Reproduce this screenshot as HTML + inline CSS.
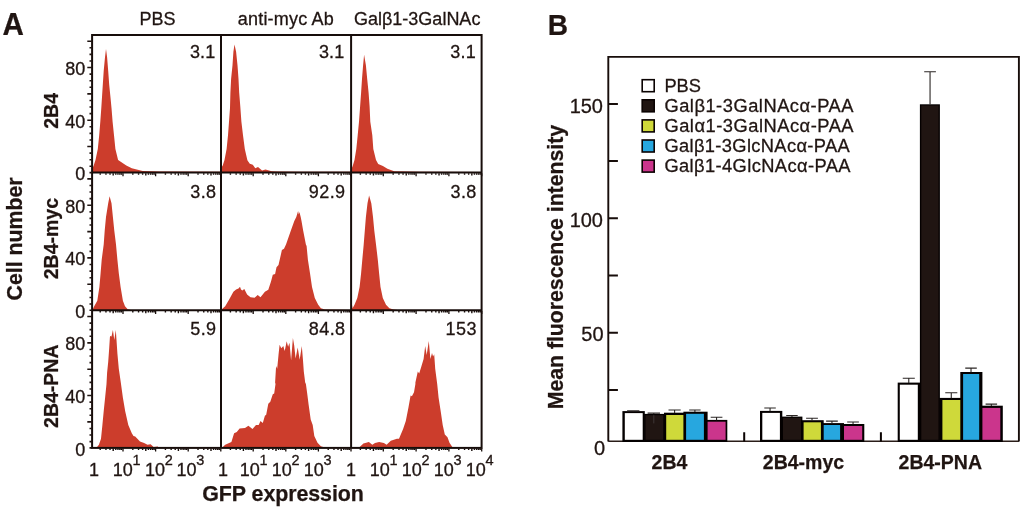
<!DOCTYPE html>
<html lang="en"><head><meta charset="utf-8"><title>Figure</title>
<style>html,body{margin:0;padding:0;background:#fff}svg{display:block}text{font-family:"Liberation Sans",sans-serif;fill:#201512;stroke:#201512;stroke-width:0.3px}.b{font-weight:bold;stroke-width:0.25px}</style>
</head><body>
<svg width="1024" height="512" viewBox="0 0 1024 512">
<rect width="1024" height="512" fill="#fff"/>
<g id="panelA">
<polygon fill="#CC3D2C" points="92.8,172.6 92.8,167.5 93.7,165.4 95.5,160.0 97.8,149.0 99.2,135.3 100.3,121.7 101.3,108.0 102.8,84.7 103.7,71.0 105.0,57.3 106.0,49.1 107.1,57.3 108.2,71.0 109.2,84.7 110.6,98.4 111.5,108.0 112.6,121.7 114.0,135.3 115.4,149.0 118.1,160.0 126.3,165.4 131.8,168.2 142.7,170.9 160.0,171.5 221.0,171.7 221.0,172.6"/>
<polygon fill="#CC3D2C" points="221.8,172.6 221.8,167.1 222.7,165.4 224.5,160.0 226.6,149.0 228.0,135.3 229.0,121.7 230.0,108.0 230.4,92.7 231.1,79.0 232.5,65.3 233.4,51.7 234.5,44.6 236.1,51.7 237.5,65.3 238.5,79.0 239.2,92.7 240.3,106.4 241.4,121.7 243.0,135.3 244.8,149.0 247.4,160.3 249.8,163.8 252.8,164.7 255.3,168.2 258.0,167.1 262.1,170.6 265.5,169.5 271.7,171.2 277.2,171.6 300.0,171.8 351.0,171.8 351.0,172.6"/>
<polygon fill="#CC3D2C" points="351.8,172.6 351.8,168.2 352.7,166.1 354.5,160.0 356.3,149.0 357.7,135.3 359.0,121.7 360.0,108.0 361.1,92.7 362.0,79.0 363.1,65.3 364.1,54.7 365.9,65.3 367.2,79.0 368.6,92.7 369.6,106.4 370.3,121.7 372.3,135.3 373.3,149.0 376.0,160.0 378.2,164.0 382.9,166.1 387.4,168.8 394.2,171.2 420.0,171.8 481.0,171.9 481.0,172.6"/>
<polygon fill="#CC3D2C" points="92.8,310.3 92.8,309.2 94.2,306.2 97.3,300.7 99.4,287.0 100.6,273.3 101.7,259.7 103.7,244.4 104.7,230.7 106.0,217.0 108.2,203.3 109.6,196.2 111.5,203.3 112.9,217.0 114.3,230.7 116.0,244.4 117.4,259.7 118.8,273.3 120.6,287.0 122.9,300.7 125.0,306.2 127.7,309.2 132.0,310.3"/>
<polygon fill="#CC3D2C" points="221.8,310.3 221.8,309.2 225.2,306.2 229.3,299.3 233.4,291.8 236.1,289.5 238.5,288.6 240.0,286.7 241.0,289.5 242.3,290.4 244.3,289.1 247.1,294.5 250.5,297.3 254.6,297.7 257.7,294.9 260.5,297.3 264.9,291.8 268.3,289.7 271.0,281.5 272.8,274.7 275.1,274.0 276.5,267.2 278.5,265.1 281.9,250.1 284.0,248.7 286.0,244.4 290.8,230.7 294.3,221.0 296.3,217.0 298.1,210.9 298.8,214.5 299.4,212.0 300.7,217.0 301.5,221.0 303.2,230.7 305.9,244.4 306.6,246.0 307.9,259.7 310.0,273.3 312.0,287.0 314.8,298.0 318.2,304.8 320.9,308.2 325.0,309.6 351.0,309.9 351.0,310.3"/>
<polygon fill="#CC3D2C" points="351.8,310.3 351.8,303.4 352.6,308.2 354.5,304.8 357.3,298.0 359.6,287.0 361.1,273.3 362.3,259.7 363.7,244.4 364.8,230.7 365.9,217.0 367.5,203.3 369.1,195.4 371.3,203.3 373.0,217.0 374.3,230.7 376.0,244.4 377.8,259.7 379.1,273.3 380.5,287.0 382.8,298.0 386.0,304.8 389.4,308.2 393.5,309.6 400.0,310.3"/>
<polygon fill="#CC3D2C" points="96.2,447.9 98.9,444.8 101.0,438.7 102.4,425.0 103.7,411.3 105.1,397.7 106.5,384.0 107.1,372.8 108.2,361.9 109.2,348.2 109.9,337.2 110.1,335.9 111.5,336.4 112.9,330.1 114.3,340.0 115.8,330.1 116.4,338.6 117.4,353.6 118.8,368.7 120.8,382.4 122.9,397.7 125.2,411.3 128.3,425.0 131.8,433.2 133.5,435.9 135.2,436.6 140.0,441.4 144.1,443.1 147.5,444.8 150.6,444.2 153.6,446.9 157.7,446.6 159.1,447.9"/>
<polygon fill="#CC3D2C" points="221.8,447.9 225.2,444.8 231.4,442.1 234.1,433.2 236.8,431.9 239.6,428.4 245.0,428.0 248.4,425.7 252.5,429.1 256.0,425.0 258.7,425.0 260.5,420.9 262.8,423.0 264.9,415.7 266.2,414.8 268.3,403.8 270.3,401.8 272.8,394.3 274.2,393.6 275.5,384.0 275.1,382.4 276.1,366.0 277.2,368.7 278.5,355.0 279.6,344.8 281.3,348.2 283.3,346.1 284.7,350.9 286.7,341.3 288.1,346.8 289.5,342.7 291.1,360.5 292.9,337.9 294.2,345.4 295.6,358.4 297.7,347.5 299.7,359.8 301.8,346.1 302.9,359.1 303.8,371.4 305.2,382.4 305.9,384.0 307.2,393.6 308.6,404.5 310.7,419.5 312.7,425.0 314.3,436.0 317.5,442.8 320.9,446.2 326.4,447.9"/>
<polygon fill="#CC3D2C" points="358.6,447.9 363.4,443.5 368.9,442.1 372.3,444.8 375.0,443.1 379.1,442.1 383.9,443.1 386.6,444.8 390.8,440.7 396.9,438.7 399.0,438.7 403.1,429.1 405.8,420.9 408.5,407.2 410.6,395.6 411.9,396.3 414.0,392.2 415.4,384.0 415.4,382.4 417.8,371.4 419.2,373.5 421.5,366.0 423.6,359.1 425.2,346.1 426.7,355.0 428.8,341.1 430.4,359.1 432.0,353.0 433.1,356.4 434.2,354.3 435.2,368.7 437.0,382.4 437.2,384.0 438.6,397.7 440.7,411.3 442.7,425.0 444.8,434.6 447.5,437.3 449.5,442.8 453.0,447.9"/>
<g stroke="#170d0a" stroke-width="2.00" fill="none" stroke-linecap="butt">
<rect x="92.1" y="35.0" width="389.5" height="412.9"/>
<line x1="221.0" y1="35.0" x2="221.0" y2="447.9"/>
<line x1="351.1" y1="35.0" x2="351.1" y2="447.9"/>
<line x1="92.1" y1="172.6" x2="481.6" y2="172.6"/>
<line x1="92.1" y1="310.3" x2="481.6" y2="310.3"/>
</g>
<path d="M92.1 172.60h-2.6M92.1 166.31h-2.6M92.1 159.73h-2.6M92.1 153.15h-2.6M92.1 146.56h-4.8M92.1 139.98h-2.6M92.1 133.39h-2.6M92.1 126.80h-2.6M92.1 120.22h-4.8M92.1 113.63h-2.6M92.1 107.05h-2.6M92.1 100.46h-2.6M92.1 93.88h-4.8M92.1 87.30h-2.6M92.1 80.71h-2.6M92.1 74.12h-2.6M92.1 67.54h-4.8M92.1 60.95h-2.6M92.1 54.37h-2.6M92.1 47.78h-2.6M92.1 41.20h-4.8M92.1 310.30h-2.6M92.1 304.02h-2.6M92.1 297.43h-2.6M92.1 290.85h-2.6M92.1 284.26h-4.8M92.1 277.68h-2.6M92.1 271.09h-2.6M92.1 264.51h-2.6M92.1 257.92h-4.8M92.1 251.34h-2.6M92.1 244.75h-2.6M92.1 238.17h-2.6M92.1 231.58h-4.8M92.1 225.00h-2.6M92.1 218.41h-2.6M92.1 211.83h-2.6M92.1 205.24h-4.8M92.1 198.66h-2.6M92.1 192.07h-2.6M92.1 185.49h-2.6M92.1 178.90h-4.8M92.1 447.90h-2.6M92.1 441.62h-2.6M92.1 435.03h-2.6M92.1 428.44h-2.6M92.1 421.86h-4.8M92.1 415.27h-2.6M92.1 408.69h-2.6M92.1 402.10h-2.6M92.1 395.52h-4.8M92.1 388.94h-2.6M92.1 382.35h-2.6M92.1 375.76h-2.6M92.1 369.18h-4.8M92.1 362.59h-2.6M92.1 356.01h-2.6M92.1 349.43h-2.6M92.1 342.84h-4.8M92.1 336.25h-2.6M92.1 329.67h-2.6M92.1 323.08h-2.6M92.1 316.50h-4.8" stroke="#201512" stroke-width="1.6" fill="none"/>
<path d="M100.21 173.30v1.4M105.95 173.30v1.4M110.03 173.30v1.4M113.19 173.30v2.3M115.77 173.30v1.4M117.95 173.30v1.4M119.84 173.30v1.4M121.51 173.30v1.4M132.81 173.30v1.4M138.55 173.30v1.4M142.63 173.30v1.4M145.79 173.30v2.3M148.37 173.30v1.4M150.55 173.30v1.4M152.44 173.30v1.4M154.11 173.30v1.4M165.41 173.30v1.4M171.15 173.30v1.4M175.23 173.30v1.4M178.39 173.30v2.3M180.97 173.30v1.4M183.15 173.30v1.4M185.04 173.30v1.4M186.71 173.30v1.4M198.01 173.30v1.4M203.75 173.30v1.4M207.83 173.30v1.4M210.99 173.30v2.3M213.57 173.30v1.4M215.75 173.30v1.4M217.64 173.30v1.4M219.31 173.30v1.4M230.41 173.30v1.4M236.15 173.30v1.4M240.23 173.30v1.4M243.39 173.30v2.3M245.97 173.30v1.4M248.15 173.30v1.4M250.04 173.30v1.4M251.71 173.30v1.4M263.01 173.30v1.4M268.75 173.30v1.4M272.83 173.30v1.4M275.99 173.30v2.3M278.57 173.30v1.4M280.75 173.30v1.4M282.64 173.30v1.4M284.31 173.30v1.4M295.61 173.30v1.4M301.35 173.30v1.4M305.43 173.30v1.4M308.59 173.30v2.3M311.17 173.30v1.4M313.35 173.30v1.4M315.24 173.30v1.4M316.91 173.30v1.4M328.21 173.30v1.4M333.95 173.30v1.4M338.03 173.30v1.4M341.19 173.30v2.3M343.77 173.30v1.4M345.95 173.30v1.4M347.84 173.30v1.4M349.51 173.30v1.4M360.37 173.30v1.4M366.15 173.30v1.4M370.25 173.30v1.4M373.43 173.30v2.3M376.02 173.30v1.4M378.22 173.30v1.4M380.12 173.30v1.4M381.80 173.30v1.4M393.17 173.30v1.4M398.95 173.30v1.4M403.05 173.30v1.4M406.23 173.30v2.3M408.82 173.30v1.4M411.02 173.30v1.4M412.92 173.30v1.4M414.60 173.30v1.4M425.97 173.30v1.4M431.75 173.30v1.4M435.85 173.30v1.4M439.03 173.30v2.3M441.62 173.30v1.4M443.82 173.30v1.4M445.72 173.30v1.4M447.40 173.30v1.4M458.77 173.30v1.4M464.55 173.30v1.4M468.65 173.30v1.4M471.83 173.30v2.3M474.42 173.30v1.4M476.62 173.30v1.4M478.52 173.30v1.4M480.20 173.30v1.4M100.21 311.00v1.4M105.95 311.00v1.4M110.03 311.00v1.4M113.19 311.00v2.3M115.77 311.00v1.4M117.95 311.00v1.4M119.84 311.00v1.4M121.51 311.00v1.4M132.81 311.00v1.4M138.55 311.00v1.4M142.63 311.00v1.4M145.79 311.00v2.3M148.37 311.00v1.4M150.55 311.00v1.4M152.44 311.00v1.4M154.11 311.00v1.4M165.41 311.00v1.4M171.15 311.00v1.4M175.23 311.00v1.4M178.39 311.00v2.3M180.97 311.00v1.4M183.15 311.00v1.4M185.04 311.00v1.4M186.71 311.00v1.4M198.01 311.00v1.4M203.75 311.00v1.4M207.83 311.00v1.4M210.99 311.00v2.3M213.57 311.00v1.4M215.75 311.00v1.4M217.64 311.00v1.4M219.31 311.00v1.4M230.41 311.00v1.4M236.15 311.00v1.4M240.23 311.00v1.4M243.39 311.00v2.3M245.97 311.00v1.4M248.15 311.00v1.4M250.04 311.00v1.4M251.71 311.00v1.4M263.01 311.00v1.4M268.75 311.00v1.4M272.83 311.00v1.4M275.99 311.00v2.3M278.57 311.00v1.4M280.75 311.00v1.4M282.64 311.00v1.4M284.31 311.00v1.4M295.61 311.00v1.4M301.35 311.00v1.4M305.43 311.00v1.4M308.59 311.00v2.3M311.17 311.00v1.4M313.35 311.00v1.4M315.24 311.00v1.4M316.91 311.00v1.4M328.21 311.00v1.4M333.95 311.00v1.4M338.03 311.00v1.4M341.19 311.00v2.3M343.77 311.00v1.4M345.95 311.00v1.4M347.84 311.00v1.4M349.51 311.00v1.4M360.37 311.00v1.4M366.15 311.00v1.4M370.25 311.00v1.4M373.43 311.00v2.3M376.02 311.00v1.4M378.22 311.00v1.4M380.12 311.00v1.4M381.80 311.00v1.4M393.17 311.00v1.4M398.95 311.00v1.4M403.05 311.00v1.4M406.23 311.00v2.3M408.82 311.00v1.4M411.02 311.00v1.4M412.92 311.00v1.4M414.60 311.00v1.4M425.97 311.00v1.4M431.75 311.00v1.4M435.85 311.00v1.4M439.03 311.00v2.3M441.62 311.00v1.4M443.82 311.00v1.4M445.72 311.00v1.4M447.40 311.00v1.4M458.77 311.00v1.4M464.55 311.00v1.4M468.65 311.00v1.4M471.83 311.00v2.3M474.42 311.00v1.4M476.62 311.00v1.4M478.52 311.00v1.4M480.20 311.00v1.4M100.21 448.60v1.4M105.95 448.60v1.4M110.03 448.60v1.4M113.19 448.60v2.3M115.77 448.60v1.4M117.95 448.60v1.4M119.84 448.60v1.4M121.51 448.60v1.4M132.81 448.60v1.4M138.55 448.60v1.4M142.63 448.60v1.4M145.79 448.60v2.3M148.37 448.60v1.4M150.55 448.60v1.4M152.44 448.60v1.4M154.11 448.60v1.4M165.41 448.60v1.4M171.15 448.60v1.4M175.23 448.60v1.4M178.39 448.60v2.3M180.97 448.60v1.4M183.15 448.60v1.4M185.04 448.60v1.4M186.71 448.60v1.4M198.01 448.60v1.4M203.75 448.60v1.4M207.83 448.60v1.4M210.99 448.60v2.3M213.57 448.60v1.4M215.75 448.60v1.4M217.64 448.60v1.4M219.31 448.60v1.4M230.41 448.60v1.4M236.15 448.60v1.4M240.23 448.60v1.4M243.39 448.60v2.3M245.97 448.60v1.4M248.15 448.60v1.4M250.04 448.60v1.4M251.71 448.60v1.4M263.01 448.60v1.4M268.75 448.60v1.4M272.83 448.60v1.4M275.99 448.60v2.3M278.57 448.60v1.4M280.75 448.60v1.4M282.64 448.60v1.4M284.31 448.60v1.4M295.61 448.60v1.4M301.35 448.60v1.4M305.43 448.60v1.4M308.59 448.60v2.3M311.17 448.60v1.4M313.35 448.60v1.4M315.24 448.60v1.4M316.91 448.60v1.4M328.21 448.60v1.4M333.95 448.60v1.4M338.03 448.60v1.4M341.19 448.60v2.3M343.77 448.60v1.4M345.95 448.60v1.4M347.84 448.60v1.4M349.51 448.60v1.4M360.37 448.60v1.4M366.15 448.60v1.4M370.25 448.60v1.4M373.43 448.60v2.3M376.02 448.60v1.4M378.22 448.60v1.4M380.12 448.60v1.4M381.80 448.60v1.4M393.17 448.60v1.4M398.95 448.60v1.4M403.05 448.60v1.4M406.23 448.60v2.3M408.82 448.60v1.4M411.02 448.60v1.4M412.92 448.60v1.4M414.60 448.60v1.4M425.97 448.60v1.4M431.75 448.60v1.4M435.85 448.60v1.4M439.03 448.60v2.3M441.62 448.60v1.4M443.82 448.60v1.4M445.72 448.60v1.4M447.40 448.60v1.4M458.77 448.60v1.4M464.55 448.60v1.4M468.65 448.60v1.4M471.83 448.60v2.3M474.42 448.60v1.4M476.62 448.60v1.4M478.52 448.60v1.4M480.20 448.60v1.4" stroke="#170d0a" stroke-width="1.4" fill="none"/>
<path d="M123.00 173.30v3.0M155.60 173.30v3.0M188.20 173.30v3.0M220.80 173.30v3.0M253.20 173.30v3.0M285.80 173.30v3.0M318.40 173.30v3.0M351.00 173.30v3.0M383.30 173.30v3.0M416.10 173.30v3.0M448.90 173.30v3.0M481.70 173.30v3.0M123.00 311.00v3.0M155.60 311.00v3.0M188.20 311.00v3.0M220.80 311.00v3.0M253.20 311.00v3.0M285.80 311.00v3.0M318.40 311.00v3.0M351.00 311.00v3.0M383.30 311.00v3.0M416.10 311.00v3.0M448.90 311.00v3.0M481.70 311.00v3.0M123.00 448.60v3.0M155.60 448.60v3.0M188.20 448.60v3.0M220.80 448.60v3.0M253.20 448.60v3.0M285.80 448.60v3.0M318.40 448.60v3.0M351.00 448.60v3.0M383.30 448.60v3.0M416.10 448.60v3.0M448.90 448.60v3.0M481.70 448.60v3.0" stroke="#170d0a" stroke-width="1.3" fill="none"/>
<text x="85.3" y="180.4" font-size="18" text-anchor="end">0</text>
<text x="85.3" y="127.7" font-size="18" text-anchor="end">40</text>
<text x="85.3" y="75.0" font-size="18" text-anchor="end">80</text>
<text x="85.3" y="318.1" font-size="18" text-anchor="end">0</text>
<text x="85.3" y="265.4" font-size="18" text-anchor="end">40</text>
<text x="85.3" y="212.7" font-size="18" text-anchor="end">80</text>
<text x="85.3" y="455.7" font-size="18" text-anchor="end">0</text>
<text x="85.3" y="403.0" font-size="18" text-anchor="end">40</text>
<text x="85.3" y="350.3" font-size="18" text-anchor="end">80</text>
<text x="93.9" y="475.7" font-size="18" text-anchor="middle">1</text>
<text x="223.0" y="475.7" font-size="18" text-anchor="middle">1</text>
<text x="350.9" y="475.7" font-size="18" text-anchor="middle">1</text>
<text x="112.7" y="475.7" font-size="18">10<tspan font-size="14.5" dx="-0.3" dy="-10.3">1</tspan></text>
<text x="144.9" y="475.7" font-size="18">10<tspan font-size="14.5" dx="-0.3" dy="-10.3">2</tspan></text>
<text x="176.6" y="475.7" font-size="18">10<tspan font-size="14.5" dx="-0.3" dy="-10.3">3</tspan></text>
<text x="239.8" y="475.7" font-size="18">10<tspan font-size="14.5" dx="-0.3" dy="-10.3">1</tspan></text>
<text x="271.8" y="475.7" font-size="18">10<tspan font-size="14.5" dx="-0.3" dy="-10.3">2</tspan></text>
<text x="303.8" y="475.7" font-size="18">10<tspan font-size="14.5" dx="-0.3" dy="-10.3">3</tspan></text>
<text x="369.8" y="475.7" font-size="18">10<tspan font-size="14.5" dx="-0.3" dy="-10.3">1</tspan></text>
<text x="401.8" y="475.7" font-size="18">10<tspan font-size="14.5" dx="-0.3" dy="-10.3">2</tspan></text>
<text x="433.8" y="475.7" font-size="18">10<tspan font-size="14.5" dx="-0.3" dy="-10.3">3</tspan></text>
<text x="465.8" y="475.7" font-size="18">10<tspan font-size="14.5" dx="-0.3" dy="-10.3">4</tspan></text>
<text x="215.5" y="58.4" font-size="18" letter-spacing="0.2" text-anchor="end">3.1</text>
<text x="344.5" y="58.4" font-size="18" letter-spacing="0.2" text-anchor="end">3.1</text>
<text x="475.9" y="58.4" font-size="18" letter-spacing="0.2" text-anchor="end">3.1</text>
<text x="216.5" y="197.9" font-size="18" letter-spacing="0.4" text-anchor="end">3.8</text>
<text x="345.5" y="197.9" font-size="18" letter-spacing="0.4" text-anchor="end">92.9</text>
<text x="476.8" y="197.9" font-size="18" letter-spacing="0.4" text-anchor="end">3.8</text>
<text x="216.5" y="334.8" font-size="18" letter-spacing="0.4" text-anchor="end">5.9</text>
<text x="345.5" y="334.8" font-size="18" letter-spacing="0.4" text-anchor="end">84.8</text>
<text x="476.8" y="334.8" font-size="18" letter-spacing="0.4" text-anchor="end">153</text>
<text x="157.4" y="25" font-size="18" text-anchor="middle">PBS</text>
<text x="237.8" y="25" font-size="18" textLength="96">anti-myc Ab</text>
<text x="417.2" y="25" font-size="18" text-anchor="middle">Galβ1-3GalNAc</text>
<text class="b" transform="translate(2.6,34.8) scale(0.961,1)" font-size="30.8">A</text>
<text class="b" transform="translate(21.5,238.9) rotate(-90)" font-size="21.3" text-anchor="middle">Cell number</text>
<text class="b" transform="translate(58.1,110.9) rotate(-90)" font-size="19.5" text-anchor="middle">2B4</text>
<text class="b" transform="translate(58.1,238.6) rotate(-90)" font-size="19.5" text-anchor="middle">2B4-myc</text>
<text class="b" transform="translate(58.1,386.2) rotate(-90)" font-size="19.5" text-anchor="middle">2B4-PNA</text>
<text class="b" x="202.3" y="501" font-size="21.4" textLength="161.6">GFP expression</text>
</g>
<g id="panelB">
<text class="b" transform="translate(547.8,35.2) scale(0.942,1)" font-size="29.8">B</text>
<line x1="608.3" y1="441.2" x2="1018.9" y2="441.2" stroke="#2a1d19" stroke-width="1.4"/>
<rect x="622.40" y="411.10" width="22.40" height="30.90" fill="#040000"/>
<rect x="644.10" y="413.90" width="20.60" height="28.10" fill="#040000"/>
<rect x="664.00" y="412.70" width="22.10" height="29.30" fill="#040000"/>
<rect x="683.40" y="411.70" width="24.20" height="30.30" fill="#040000"/>
<rect x="703.90" y="419.90" width="23.40" height="22.10" fill="#040000"/>
<rect x="624.80" y="413.10" width="17.90" height="26.70" fill="#fff"/>
<rect x="645.50" y="415.20" width="17.80" height="24.60" fill="#201512"/>
<rect x="666.20" y="415.00" width="17.20" height="24.80" fill="#CFD93A"/>
<rect x="686.10" y="413.80" width="17.80" height="26.00" fill="#27A7DF"/>
<rect x="707.60" y="421.70" width="18.00" height="18.10" fill="#CB358C"/>
<rect x="760.00" y="410.90" width="22.30" height="31.10" fill="#040000"/>
<rect x="781.60" y="416.60" width="20.80" height="25.40" fill="#040000"/>
<rect x="801.70" y="420.20" width="22.00" height="21.80" fill="#040000"/>
<rect x="820.90" y="423.10" width="23.10" height="18.90" fill="#040000"/>
<rect x="840.10" y="424.00" width="24.20" height="18.00" fill="#040000"/>
<rect x="762.30" y="412.90" width="17.60" height="26.90" fill="#fff"/>
<rect x="783.00" y="417.90" width="18.00" height="21.90" fill="#201512"/>
<rect x="803.60" y="422.30" width="17.30" height="17.50" fill="#CFD93A"/>
<rect x="823.70" y="425.00" width="16.40" height="14.80" fill="#27A7DF"/>
<rect x="844.00" y="426.00" width="18.20" height="13.80" fill="#CB358C"/>
<rect x="897.70" y="382.60" width="22.90" height="59.40" fill="#040000"/>
<rect x="919.90" y="104.30" width="20.00" height="337.70" fill="#040000"/>
<rect x="939.20" y="397.90" width="23.90" height="44.10" fill="#040000"/>
<rect x="960.30" y="372.00" width="22.10" height="70.00" fill="#040000"/>
<rect x="979.20" y="405.70" width="23.60" height="36.30" fill="#040000"/>
<rect x="899.80" y="384.70" width="18.00" height="55.10" fill="#fff"/>
<rect x="921.30" y="105.50" width="17.20" height="334.30" fill="#201512"/>
<rect x="942.40" y="400.00" width="17.90" height="39.80" fill="#CFD93A"/>
<rect x="963.10" y="374.00" width="16.10" height="65.80" fill="#27A7DF"/>
<rect x="982.40" y="407.90" width="17.90" height="31.90" fill="#CB358C"/>
<path d="M633.25 411.40V410.80M627.10 410.80H639.40M653.80 414.20V413.10M647.60 413.10H660.00M674.60 413.00V410.00M668.50 410.00H680.70M694.90 412.00V410.00M689.20 410.00H700.60M716.55 420.20V417.30M710.70 417.30H722.40M770.05 411.20V408.00M764.30 408.00H775.80M791.95 416.90V415.50M786.20 415.50H797.70M812.00 420.50V418.20M806.10 418.20H817.90M831.95 423.40V421.10M826.10 421.10H837.80M853.05 424.30V422.00M847.20 422.00H858.90M908.77 382.90V378.30M902.75 378.30H914.80M930.05 104.60V71.70M924.20 71.70H935.90M951.27 398.20V392.70M945.25 392.70H957.30M971.02 372.30V368.10M965.25 368.10H976.80M991.35 406.00V404.10M985.60 404.10H997.10" stroke="#2b2624" stroke-width="1.1" fill="none"/>
<path d="M653.8 415.2V423.4" stroke="#45403f" stroke-width="0.8" fill="none"/>
<path d="M608.3 441.5V56.9H1018.9V441.5" stroke="#170d0a" stroke-width="1.9" fill="none"/>
<path d="M608.3 389.90h9.6M608.3 332.70h9.6M608.3 275.50h9.6M608.3 218.30h9.6M608.3 161.10h9.6M608.3 103.90h9.6" stroke="#170d0a" stroke-width="2.0" fill="none"/>
<path d="M744.2 432.2V441.6M880.9 432.2V441.6" stroke="#0a0302" stroke-width="2" fill="none"/>
<text x="605.0" y="455.2" font-size="20" text-anchor="end">0</text>
<text x="603.6" y="341.0" font-size="20" text-anchor="end">50</text>
<text x="603.0" y="227.0" font-size="20" text-anchor="end">100</text>
<text x="603.0" y="112.8" font-size="20" text-anchor="end">150</text>
<text class="b" transform="translate(563.1,267.1) rotate(-90)" font-size="21.3" textLength="284.3" text-anchor="middle">Mean fluorescence intensity</text>
<text class="b" x="669.5" y="468.9" font-size="19.5" text-anchor="middle">2B4</text>
<text class="b" x="803.5" y="468.9" font-size="19.5" text-anchor="middle">2B4-myc</text>
<text class="b" x="940.3" y="468.9" font-size="19.5" text-anchor="middle">2B4-PNA</text>
<rect x="642.2" y="79.7" width="12.0" height="12.0" fill="#fff" stroke="#0a0302" stroke-width="1.6"/>
<text x="664.4" y="91.9" font-size="18.3" letter-spacing="0.00">PBS</text>
<rect x="642.2" y="99.8" width="12.0" height="12.0" fill="#201512" stroke="#0a0302" stroke-width="1.6"/>
<text x="664.4" y="112.0" font-size="18.3" letter-spacing="0.52">Galβ1-3GalNAcα-PAA</text>
<rect x="642.2" y="119.9" width="12.0" height="12.0" fill="#CFD93A" stroke="#0a0302" stroke-width="1.6"/>
<text x="664.4" y="132.1" font-size="18.3" letter-spacing="0.52">Galα1-3GalNAcα-PAA</text>
<rect x="642.2" y="140.0" width="12.0" height="12.0" fill="#27A7DF" stroke="#0a0302" stroke-width="1.6"/>
<text x="664.4" y="152.2" font-size="18.3" letter-spacing="0.36">Galβ1-3GlcNAcα-PAA</text>
<rect x="642.2" y="160.1" width="12.0" height="12.0" fill="#CB358C" stroke="#0a0302" stroke-width="1.6"/>
<text x="664.4" y="172.3" font-size="18.3" letter-spacing="0.40">Galβ1-4GlcNAcα-PAA</text>
</g>
</svg></body></html>
